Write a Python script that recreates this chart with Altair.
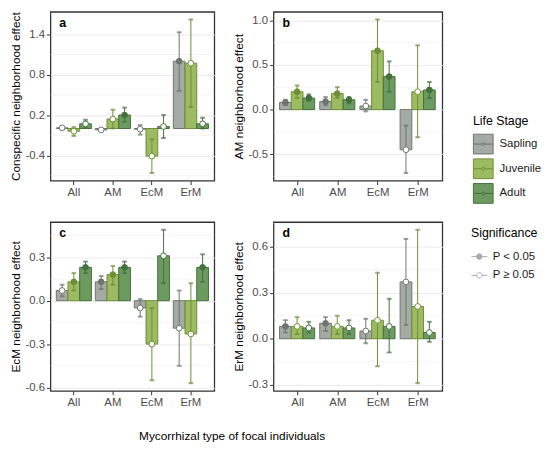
import altair as alt
import pandas as pd

groups = ["All", "AM", "EcM", "ErM"]
stages = ["Sapling", "Juvenile", "Adult"]
sig_labels = ["P < 0.05", "P \u2265 0.05"]
x_title = "Mycorrhizal type of focal individuals"

panel_letters = ["a", "b", "c", "d"]
panel_titles = ["Conspecific neighborhood effect", "AM neighborhood effect",
                "EcM neighborhood effect", "ErM neighborhood effect"]
panel_ticks = [[-0.4, 0.2, 0.8, 1.4], [-0.5, 0.0, 0.5, 1.0],
               [-0.6, -0.3, 0.0, 0.3], [-0.3, 0.0, 0.3, 0.6]]

# order: All(S,J,A), AM(S,J,A), EcM(S,J,A), ErM(S,J,A)
a_est = [0.01, -0.04, 0.07, -0.02, 0.14, 0.20, -0.01, -0.41, 0.03, 1.00, 0.97, 0.07]
a_lo = [-0.01, -0.11, 0.01, -0.03, 0.00, 0.10, -0.09, -0.66, -0.14, 0.56, 0.32, 0.00]
a_hi = [0.02, 0.02, 0.13, -0.01, 0.28, 0.31, 0.05, -0.16, 0.20, 1.43, 1.62, 0.16]
a_sig = [0, 0, 0, 0, 0, 1, 0, 0, 0, 1, 0, 0]

b_est = [0.08, 0.20, 0.13, 0.09, 0.18, 0.11, 0.04, 0.66, 0.37, -0.45, 0.20, 0.22]
b_lo = [0.05, 0.13, 0.10, 0.05, 0.13, 0.07, -0.02, 0.31, 0.20, -0.71, -0.31, 0.13]
b_hi = [0.11, 0.27, 0.17, 0.14, 0.25, 0.14, 0.11, 1.01, 0.54, -0.18, 0.72, 0.31]
b_sig = [1, 1, 1, 1, 1, 1, 0, 1, 1, 0, 0, 1]

c_est = [0.07, 0.13, 0.23, 0.13, 0.18, 0.23, -0.05, -0.30, 0.31, -0.19, -0.23, 0.23]
c_lo = [0.03, 0.07, 0.19, 0.08, 0.11, 0.19, -0.11, -0.55, 0.12, -0.45, -0.57, 0.13]
c_hi = [0.11, 0.19, 0.27, 0.17, 0.24, 0.27, 0.01, -0.05, 0.49, 0.07, 0.12, 0.32]
c_sig = [0, 1, 1, 1, 1, 1, 0, 0, 0, 0, 0, 1]

d_est = [0.08, 0.08, 0.07, 0.10, 0.08, 0.07, 0.05, 0.12, 0.08, 0.37, 0.21, 0.04]
d_lo = [0.04, 0.03, 0.04, 0.05, 0.03, 0.03, -0.03, -0.18, -0.09, 0.09, -0.29, -0.02]
d_hi = [0.12, 0.14, 0.11, 0.14, 0.15, 0.12, 0.13, 0.43, 0.26, 0.65, 0.71, 0.11]
d_sig = [1, 0, 0, 1, 0, 0, 0, 0, 0, 0, 0, 0]

fills = ["#a4aaa4", "#9dbb62", "#6d9a5f"]
darks = ["#6e756e", "#6d8e35", "#44703c"]
sig_fill = ["#a9a9a9", "white"]
sig_stroke = "#a9a9a9"

ests = [a_est, b_est, c_est, d_est]
los = [a_lo, b_lo, c_lo, d_lo]
his = [a_hi, b_hi, c_hi, d_hi]
sigs = [a_sig, b_sig, c_sig, d_sig]
widths = [166, 171, 166, 171]

FONT = "Liberation Sans"
life_path = ("M-1,-1H1V1H-1Z M-1,0H-0.15 M0.15,0H1 "
             "M0.15,0A0.15,0.15,0,1,1,-0.15,0A0.15,0.15,0,1,1,0.15,0Z")
sig_path = ("M-1,0H-0.35 M0.35,0H1 "
            "M0.35,0A0.35,0.35,0,1,1,-0.35,0A0.35,0.35,0,1,1,0.35,0Z")


def make_frame(i):
    rows = []
    k = 0
    for g in groups:
        for si, s in enumerate(stages):
            sig = sigs[i][k]
            rows.append({
                "group": g, "stage": s, "est": ests[i][k], "lo": los[i][k],
                "hi": his[i][k],
                "pfill": darks[si] if sig else "white",
            })
            k += 1
    return pd.DataFrame(rows)


life_legend = dict(title="Life Stage", orient="none", legendX=428, legendY=105,
                   symbolType=life_path, symbolSize=400, symbolStrokeWidth=1,
                   rowPadding=0, titlePadding=6, labelOffset=6)

color_enc = alt.Color("stage:N", sort=stages,
                      scale=alt.Scale(domain=stages, range=fills),
                      legend=alt.Legend(**life_legend))
stroke_enc = alt.Stroke("stage:N", sort=stages,
                        scale=alt.Scale(domain=stages, range=darks),
                        legend=alt.Legend(**life_legend))


def panel(i):
    df = make_frame(i)
    lo_all = min(min(los[i]), 0.0)
    hi_all = max(max(his[i]), 0.0)
    rng = hi_all - lo_all
    dom = [lo_all - 0.05 * rng, hi_all + 0.05 * rng]
    majors = panel_ticks[i]
    step = majors[1] - majors[0]
    minors = [round(m + step / 2, 4) for m in [majors[0] - step] + majors]
    minors = [m for m in minors if dom[0] <= m <= dom[1]]

    yaxis = alt.Axis(
        values=majors, title=panel_titles[i],
        labelExpr="replace(format(datum.value, '.1f'), '\u2212', '-')",
        gridWidth=1,
    )
    yscale = alt.Scale(domain=dom, nice=False, zero=False)
    if i == 2:
        xaxis = alt.Axis(bandPosition=0.5, labelAngle=0, title=x_title,
                         titleX=183.5, titleY=45, titleAlign="center",
                         titleBaseline="middle")
    else:
        xaxis = alt.Axis(bandPosition=0.5, labelAngle=0, title=None)
    x = alt.X("group:N", sort=groups,
              scale=alt.Scale(domain=groups, paddingInner=0.1, paddingOuter=0.15),
              axis=xaxis)
    xo = alt.XOffset("stage:N", sort=stages,
                     scale=alt.Scale(domain=stages, paddingInner=0, paddingOuter=0))

    minor_grid = alt.Chart(pd.DataFrame({"m": minors})).mark_rule(
        strokeWidth=0.5, color="#ebebeb").encode(
        y=alt.Y("m:Q", scale=yscale, axis=yaxis))

    base = alt.Chart(df)
    bars = base.mark_bar(strokeWidth=1).encode(
        x=x, xOffset=xo,
        y=alt.Y("est:Q", scale=yscale, axis=yaxis),
        y2=alt.datum(0),
        color=color_enc, stroke=stroke_enc,
    )
    rules = base.mark_rule(strokeWidth=1).encode(
        x=x, xOffset=xo, y="lo:Q", y2="hi:Q", stroke=stroke_enc,
    )
    caps = base.transform_fold(["lo", "hi"], as_=["k", "v"]).mark_tick(
        size=4, thickness=1).encode(
        x=x, xOffset=xo, y="v:Q", stroke=stroke_enc,
    )
    pts = base.mark_point(filled=True, size=34, strokeWidth=1, opacity=1).encode(
        x=x, xOffset=xo, y="est:Q", stroke=stroke_enc,
        fill=alt.Fill("pfill:N", scale=None),
    )
    letter = alt.Chart(pd.DataFrame({"t": [panel_letters[i]]})).mark_text(
        align="left", baseline="middle", fontSize=12.5, fontWeight="bold",
        color="black").encode(
        x=alt.value(9), y=alt.value(11), text="t:N")
    layers = [minor_grid, bars, rules, caps, pts, letter]
    if i == 1:
        sig_df = pd.DataFrame({"sig": sig_labels})
        dummy = alt.Chart(sig_df).transform_filter("false").mark_point(
            filled=True, stroke=sig_stroke, strokeWidth=1, opacity=1).encode(
            fill=alt.Fill("sig:N", scale=alt.Scale(domain=sig_labels, range=sig_fill),
                          legend=alt.Legend(title="Significance", orient="none",
                                            legendX=426, legendY=218,
                                            symbolType=sig_path, symbolSize=256,
                                            symbolStrokeColor=sig_stroke,
                                            symbolStrokeWidth=1, rowPadding=5,
                                            titlePadding=9, labelOffset=5)),
        )
        layers.append(dummy)
    return alt.layer(*layers).properties(width=widths[i], height=171)


chart = alt.concat(*[panel(i) for i in range(4)], columns=2, bounds="flush",
                   spacing={"row": 42, "column": 60}).properties(
    padding=0,
).configure(font=FONT).configure_view(
    stroke="#333333", strokeWidth=1.3
).configure_axis(
    labelFontSize=11.5, labelColor="#4d4d4d", titleFontSize=12,
    titleFontWeight="normal", titleColor="black", tickColor="#333333",
    tickSize=4, labelPadding=2, titlePadding=3, domain=False,
    gridColor="#ebebeb",
).configure_legend(
    titleFontSize=12.5, titleFontWeight="normal", titleColor="black",
    labelFontSize=11.5, labelColor="#1a1a1a",
)

chart.save("out.html", embed_options={"renderer": "svg", "actions": False})
